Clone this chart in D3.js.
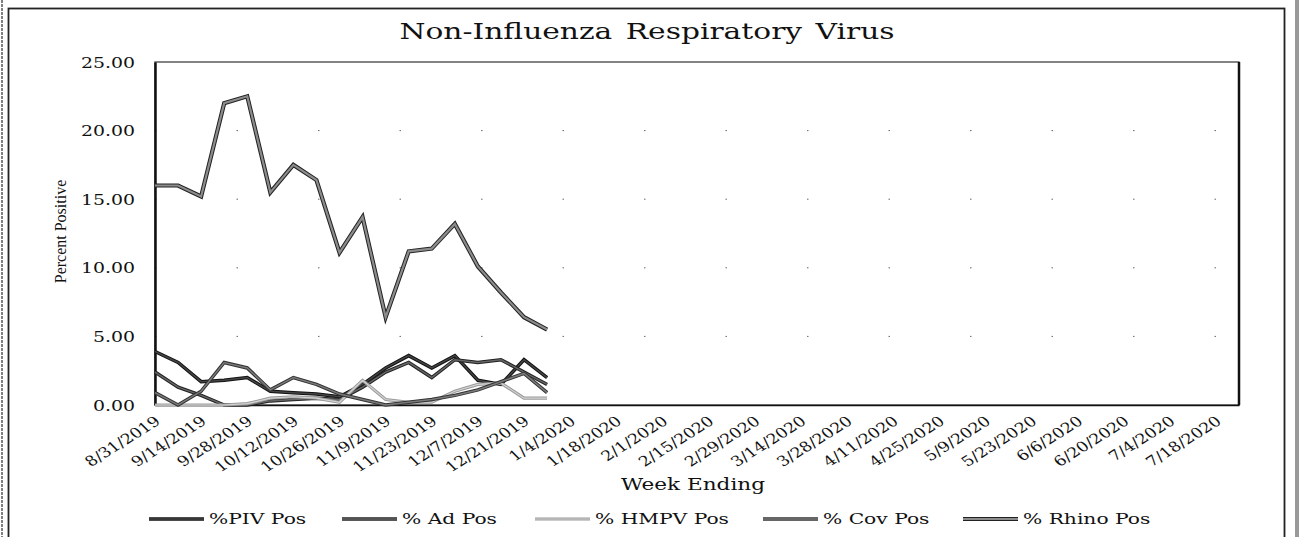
<!DOCTYPE html>
<html>
<head>
<meta charset="utf-8">
<script src="https://cdn.jsdelivr.net/npm/d3@7"></script>
<style>
  body { margin: 0; background: #fff; }
  svg { display: block; }
</style>
</head>
<body>
<script>
// week ending categories (axis runs on tick marks, labels every other week)
var weeks = ["8/31/2019","9/7/2019","9/14/2019","9/21/2019","9/28/2019","10/5/2019","10/12/2019","10/19/2019",
  "10/26/2019","11/2/2019","11/9/2019","11/16/2019","11/23/2019","11/30/2019","12/7/2019","12/14/2019",
  "12/21/2019","12/28/2019","1/4/2020","1/11/2020","1/18/2020","1/25/2020","2/1/2020","2/8/2020",
  "2/15/2020","2/22/2020","2/29/2020","3/7/2020","3/14/2020","3/21/2020","3/28/2020","4/4/2020",
  "4/11/2020","4/18/2020","4/25/2020","5/2/2020","5/9/2020","5/16/2020","5/23/2020","5/30/2020",
  "6/6/2020","6/13/2020","6/20/2020","6/27/2020","7/4/2020","7/11/2020","7/18/2020","7/25/2020"];

// percent positive, 8/31/2019 .. 12/28/2019
var pivPos   = [3.9, 3.1, 1.7, 1.8, 2.0, 1.0, 0.9, 0.8, 0.6, 1.5, 2.7, 3.6, 2.7, 3.6, 1.8, 1.5, 3.3, 2.0];
var adPos    = [2.4, 1.3, 0.7, 0.0, 0.0, 0.3, 0.4, 0.5, 0.4, 1.3, 2.4, 3.1, 2.0, 3.3, 3.1, 3.3, 2.4, 1.5];
var hmpvPos  = [0.0, 0.0, 0.0, 0.0, 0.1, 0.5, 0.6, 0.5, 0.2, 1.8, 0.4, 0.2, 0.2, 1.0, 1.5, 1.6, 0.5, 0.5];
var covPos   = [0.9, 0.0, 1.0, 3.1, 2.7, 1.1, 2.0, 1.5, 0.8, 0.4, 0.0, 0.2, 0.4, 0.7, 1.1, 1.7, 2.3, 0.9];
var rhinoPos = [16.0, 16.0, 15.2, 22.0, 22.5, 15.5, 17.5, 16.4, 11.1, 13.7, 6.4, 11.2, 11.4, 13.2, 10.1, 8.2, 6.4, 5.5];

var yTicks = [0, 5, 10, 15, 20, 25];

var series = [
  { name: "%PIV Pos",    values: pivPos,   outer: "#111", inner: "#444", w: 3.5 },
  { name: "% Ad Pos",    values: adPos,    outer: "#222", inner: "#666", w: 3.5 },
  { name: "% HMPV Pos",  values: hmpvPos,  outer: "#999", inner: "#d4d4d4", w: 3.2 },
  { name: "% Cov Pos",   values: covPos,   outer: "#333", inner: "#7a7a7a", w: 3.5 },
  { name: "% Rhino Pos", values: rhinoPos, outer: "#222", inner: "#8c8c8c", w: 4.2 }
];

var W = 1304, H = 537;
var margin = { left: 155, right: 65, top: 62, bottom: 132 };
var width = W - margin.left - margin.right;
var height = H - margin.top - margin.bottom;
var stretch = 1.35;   // the scanned chart is wider than it is tall

var svg = d3.select("body").append("svg")
  .attr("width", W).attr("height", H);

// scan frame
svg.append("line").attr("x1", 2).attr("x2", 2).attr("y1", 0).attr("y2", H)
  .attr("stroke", "#555").attr("stroke-width", 1.5).attr("stroke-dasharray", "3 1");
svg.append("rect").attr("x", 8.5).attr("y", 8.5).attr("width", 1276).attr("height", H)
  .attr("fill", "none").attr("stroke", "#222").attr("stroke-width", 1.8);
svg.append("rect").attr("x", 1295).attr("y", 0).attr("width", 4).attr("height", H)
  .attr("fill", "#999");

var x = d3.scalePoint().domain(weeks).range([0, width]).padding(0);
var y = d3.scaleLinear().domain([0, 25]).range([height, 0]);

var g = svg.append("g")
  .attr("transform", "translate(" + margin.left + "," + margin.top + ")");

// faint gridlines (mostly lost in the scan)
g.selectAll(".grid").data(yTicks.slice(1, -1)).enter().append("line")
  .attr("x1", 0).attr("x2", width)
  .attr("y1", d => y(d)).attr("y2", d => y(d))
  .attr("stroke", "#666").attr("stroke-width", 1)
  .attr("stroke-dasharray", "1.5 80");

// plot border
g.append("rect").attr("x", 0).attr("y", 0).attr("width", width).attr("height", height)
  .attr("fill", "none").attr("stroke", "#333").attr("stroke-width", 1.2);
g.append("line").attr("x1", width).attr("x2", width).attr("y1", 0).attr("y2", height)
  .attr("stroke", "#111").attr("stroke-width", 2.5);

// y axis
var yAxis = g.append("g")
  .call(d3.axisLeft(y).tickValues(yTicks).tickSize(0).tickPadding(0).tickFormat(d3.format(".2f")));
yAxis.select(".domain").attr("stroke", "#111").attr("stroke-width", 2.5);
yAxis.selectAll("text")
  .style("font-family", "DejaVu Serif").style("font-size", "14px").attr("fill", "#111")
  .attr("x", 0).attr("dy", "0.36em")
  .attr("transform", "translate(-20,0)scale(" + stretch + ",1)");

// x axis
var xAxis = g.append("g")
  .attr("transform", "translate(0," + height + ")")
  .call(d3.axisBottom(x).tickValues(weeks.filter((d, i) => i % 2 == 0)).tickSize(0));
xAxis.select(".domain").attr("stroke", "#111").attr("stroke-width", 1.5);
xAxis.selectAll("text")
  .style("font-family", "DejaVu Serif").style("font-size", "14px").attr("fill", "#111")
  .style("text-anchor", "end")
  .attr("y", 0).attr("dy", 0)
  .attr("transform", "translate(6,18)scale(1.25,1)rotate(-38)");

// lines
var line = d3.line()
  .defined(d => d.v != null)
  .x(d => x(d.w))
  .y(d => y(d.v));

series.forEach(function (s) {
  var pts = s.values.map((v, i) => ({ w: weeks[i], v: v }));
  g.append("path").datum(pts)
    .attr("fill", "none").attr("stroke", s.outer).attr("stroke-width", s.w)
    .attr("stroke-linejoin", "miter").attr("d", line);
  g.append("path").datum(pts)
    .attr("fill", "none").attr("stroke", s.inner).attr("stroke-width", s.w - 2)
    .attr("stroke-linejoin", "miter").attr("d", line);
});

// title
svg.append("text")
  .attr("transform", "translate(647,39)scale(" + stretch + ",1)")
  .style("text-anchor", "middle")
  .style("font-family", "DejaVu Serif").style("font-size", "22px").attr("fill", "#111")
  .style("word-spacing", "3px")
  .text("Non-Influenza Respiratory Virus");

// axis titles
svg.append("text")
  .attr("transform", "translate(66," + (margin.top + height / 2 - 2) + ")rotate(-90)")
  .style("text-anchor", "middle")
  .style("font-family", "Liberation Serif").style("font-size", "16px").attr("fill", "#111")
  .text("Percent Positive");

svg.append("text")
  .attr("transform", "translate(693,490)scale(" + stretch + ",1)")
  .style("text-anchor", "middle")
  .style("font-family", "DejaVu Serif").style("font-size", "16px").attr("fill", "#111")
  .text("Week Ending");

// legend
var legendX = [149, 342, 535, 763, 963];
var leg = svg.append("g").attr("transform", "translate(0,524)");
series.forEach(function (s, i) {
  var lg = leg.append("g").attr("transform", "translate(" + legendX[i] + ",0)");
  lg.append("line").attr("x1", 0).attr("x2", 55).attr("y1", -5).attr("y2", -5)
    .attr("stroke", s.outer).attr("stroke-width", s.w);
  lg.append("line").attr("x1", 0).attr("x2", 55).attr("y1", -5).attr("y2", -5)
    .attr("stroke", s.inner).attr("stroke-width", s.w - 2);
  lg.append("text").attr("transform", "translate(60,0)scale(" + stretch + ",1)")
    .style("font-family", "DejaVu Serif").style("font-size", "15px").attr("fill", "#111")
    .text(s.name);
});
</script>
</body>
</html>
